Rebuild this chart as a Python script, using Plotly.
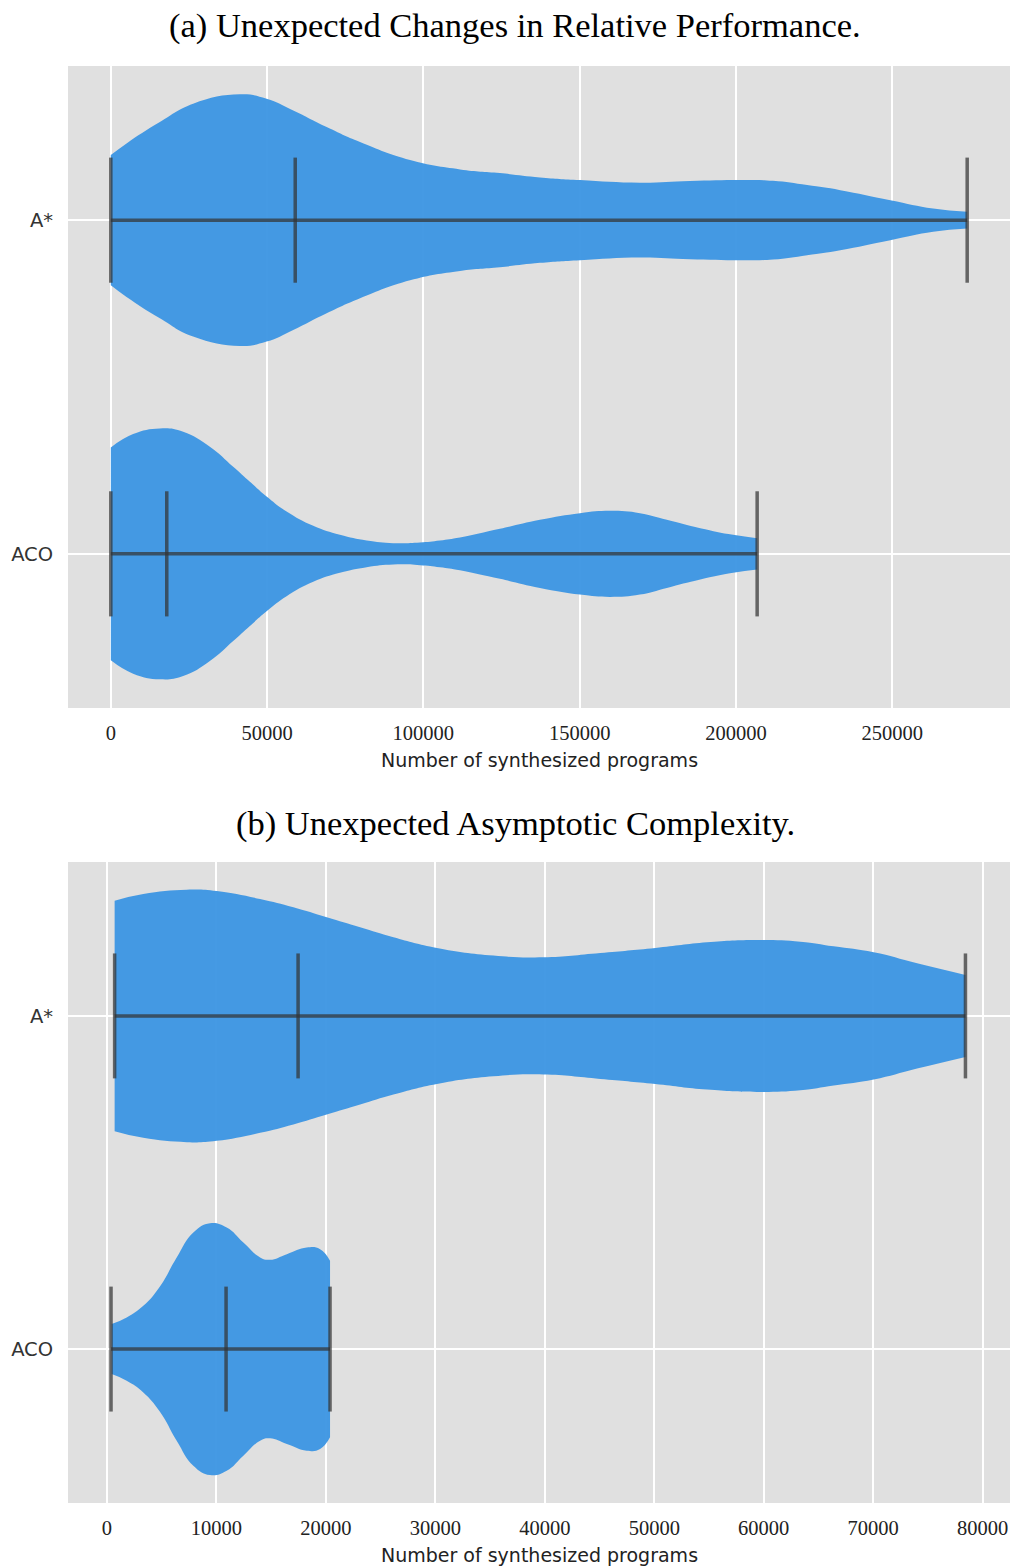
import plotly.graph_objects as go

W, H = 1011, 1568

# ---------------- data ----------------
categories = ["ACO", "A*"]           # y positions 0, 1

# (a) violin profiles: value along x, half-width of the density outline (y units)
a_astar_x = [0, 5030, 15690, 26340, 41290, 49840, 58370, 69060, 79740, 95740, 111750,
             124500, 137300, 150100, 169300, 185300, 201300, 211900, 222800, 233400,
             249400, 263100, 274000]
a_astar_w = [0.195, 0.230, 0.294, 0.349, 0.377, 0.364, 0.329, 0.279, 0.234, 0.180, 0.152,
             0.141, 0.128, 0.120, 0.112, 0.117, 0.120, 0.118, 0.105, 0.090,
             0.060, 0.035, 0.025]
a_aco_x = [0, 7140, 15690, 23150, 31690, 39150, 44500, 49840, 56240, 64770, 73300, 81850,
           90370, 98910, 105310, 111710, 124500, 137300, 150100, 159700, 169300, 177900,
           188600, 199100, 206800]
a_aco_w = [0.319, 0.359, 0.376, 0.366, 0.321, 0.261, 0.216, 0.172, 0.127, 0.084, 0.057, 0.040,
           0.032, 0.034, 0.040, 0.049, 0.075, 0.102, 0.122, 0.129, 0.122, 0.102,
           0.077, 0.057, 0.047]
a_stats = {"A*": (0, 59000, 274000), "ACO": (0, 17900, 206800)}   # min, median, max

# (b)
b_astar_x = [700, 3320, 7290, 10030, 13990, 17030, 20080, 23130, 26170, 30140, 35310, 39880,
             45060, 50090, 54820, 59390, 63350, 66390, 70050, 74010, 78430]
b_astar_w = [0.346, 0.366, 0.379, 0.375, 0.351, 0.326, 0.296, 0.266, 0.236, 0.204, 0.181, 0.176,
             0.189, 0.204, 0.221, 0.228, 0.223, 0.209, 0.191, 0.158, 0.123]
b_aco_x = [430, 1800, 3320, 4840, 6370, 7890, 9410, 10940, 12460, 13990, 14900,
           16430, 18250, 19470, 20380]
b_aco_w = [0.075, 0.095, 0.130, 0.188, 0.275, 0.350, 0.378, 0.365, 0.320, 0.275, 0.268,
           0.285, 0.305, 0.300, 0.265]
b_stats = {"A*": (700, 17460, 78430), "ACO": (370, 10880, 20380)}

a_ticks = [0, 50000, 100000, 150000, 200000, 250000]
b_ticks = [0, 10000, 20000, 30000, 40000, 50000, 60000, 70000, 80000]

# ---------------- style ----------------
FILL = "rgba(59,149,227,0.95)"
BAR = "rgba(51,51,51,0.72)"
BG = "#e0e0e0"
CAP = 0.1875
SERIF = "Liberation Serif, serif"
SANS = "DejaVu Sans, sans-serif"

fig = go.Figure()


def add_violin(xs, ws, c, stats, xa, ya):
    fig.add_trace(go.Scatter(x=xs, y=[c - w for w in ws], mode="lines",
                             line=dict(width=0, shape="spline", smoothing=1.3),
                             xaxis=xa, yaxis=ya, hoverinfo="skip", showlegend=False))
    fig.add_trace(go.Scatter(x=xs, y=[c + w for w in ws], mode="lines",
                             line=dict(width=0, shape="spline", smoothing=1.3),
                             fill="tonexty", fillcolor=FILL,
                             xaxis=xa, yaxis=ya, hoverinfo="skip", showlegend=False))
    mn, md, mx = stats
    fig.add_trace(go.Scatter(x=[mn, mx], y=[c, c], mode="lines",
                             line=dict(color=BAR, width=3.5),
                             xaxis=xa, yaxis=ya, hoverinfo="skip", showlegend=False))
    for v in (mn, md, mx):
        fig.add_trace(go.Scatter(x=[v, v], y=[c - CAP, c + CAP], mode="lines",
                                 line=dict(color=BAR, width=3.5),
                                 xaxis=xa, yaxis=ya, hoverinfo="skip", showlegend=False))


add_violin(a_astar_x, a_astar_w, 1, a_stats["A*"], "x", "y")
add_violin(a_aco_x, a_aco_w, 0, a_stats["ACO"], "x", "y")
add_violin(b_astar_x, b_astar_w, 1, b_stats["A*"], "x2", "y2")
add_violin(b_aco_x, b_aco_w, 0, b_stats["ACO"], "x2", "y2")

xdom = [68 / W, 1010 / W]
xcommon = dict(showgrid=True, gridcolor="white", gridwidth=1.6, zeroline=False,
               showline=False, ticks="outside", ticklen=6, tickcolor="rgba(0,0,0,0)",
               tickfont=dict(family=SERIF, size=20.5, color="#222"), domain=xdom)
ycommon = dict(showgrid=True, gridcolor="white", gridwidth=1.6, zeroline=False,
               showline=False, ticks="outside", ticklen=10, tickcolor="rgba(0,0,0,0)",
               tickvals=[0, 1], ticktext=categories, range=[-0.462, 1.462],
               tickfont=dict(family=SANS, size=19.5, color="#333"))

fig.update_layout(
    width=W, height=H, margin=dict(l=0, r=0, t=0, b=0),
    paper_bgcolor="white", plot_bgcolor=BG,
    xaxis=dict(**xcommon, range=[-13700, 287700], tickvals=a_ticks,
               ticktext=[str(t) for t in a_ticks], anchor="y"),
    yaxis=dict(**ycommon, domain=[1 - 708 / H, 1 - 66 / H], anchor="x"),
    xaxis2=dict(**xcommon, range=[-3560, 82500], tickvals=b_ticks,
                ticktext=[str(t) for t in b_ticks], anchor="y2"),
    yaxis2=dict(**ycommon, domain=[1 - 1503 / H, 1 - 862 / H], anchor="x2"),
    showlegend=False,
)

xc = (68 + 1010) / 2 / W
xt = 515 / W
anns = [
    dict(text="(a) Unexpected Changes in Relative Performance.", x=xt, y=1 - 25 / H,
         font=dict(family=SERIF, size=34.5, color="black")),
    dict(text="(b) Unexpected Asymptotic Complexity.", x=xt, y=1 - 823 / H,
         font=dict(family=SERIF, size=34.5, color="black")),
    dict(text="Number of synthesized programs", x=xc, y=1 - 760 / H,
         font=dict(family=SANS, size=19, color="#222")),
    dict(text="Number of synthesized programs", x=xc, y=1 - 1555 / H,
         font=dict(family=SANS, size=19, color="#222")),
]
for a in anns:
    fig.add_annotation(xref="paper", yref="paper", showarrow=False,
                       xanchor="center", yanchor="middle", **a)

fig.write_html("out.html", config={"displayModeBar": False},
               post_script="document.body.style.margin='0';document.body.style.overflow='hidden';")
